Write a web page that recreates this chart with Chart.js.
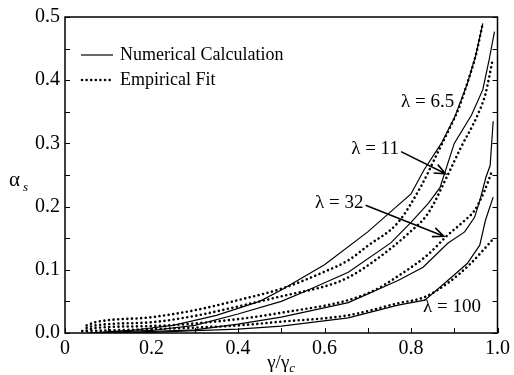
<!DOCTYPE html>
<html>
<head>
<meta charset="utf-8">
<script src="https://cdn.jsdelivr.net/npm/chart.js@4.4.0/dist/chart.umd.min.js"></script>
<style>
  html, body { margin: 0; padding: 0; background: #fff; }
  #wrap { width: 514px; height: 375px; }
</style>
</head>
<body>
<div id="wrap"><canvas id="plot" width="514" height="375"></canvas></div>
<script>
// Numerical calculation (solid) and empirical fit (dotted), per lambda
const num65X = [0.05, 0.15, 0.25, 0.35, 0.45, 0.5, 0.6, 0.7, 0.75, 0.8, 0.83, 0.87, 0.9, 0.93, 0.95, 0.966];
const num65Y = [0.0, 0.004, 0.012, 0.028, 0.05, 0.068, 0.108, 0.16, 0.19, 0.22, 0.258, 0.3, 0.34, 0.394, 0.44, 0.49];
const fit65X = [0.05, 0.07, 0.2, 0.3, 0.4, 0.5, 0.6, 0.655, 0.7, 0.77, 0.823, 0.86, 0.89, 0.91, 0.93, 0.95, 0.966];
const fit65Y = [0.012, 0.017, 0.025, 0.036, 0.052, 0.07, 0.097, 0.115, 0.138, 0.175, 0.232, 0.283, 0.325, 0.355, 0.395, 0.44, 0.49];

const num11X = [0.06, 0.2, 0.3, 0.4, 0.5, 0.556, 0.655, 0.754, 0.8, 0.84, 0.867, 0.9, 0.94, 0.966, 0.98, 0.993];
const num11Y = [0.0, 0.004, 0.012, 0.03, 0.05, 0.066, 0.096, 0.143, 0.175, 0.205, 0.23, 0.3, 0.345, 0.385, 0.43, 0.477];
const fit11X = [0.05, 0.07, 0.2, 0.3, 0.4, 0.5, 0.616, 0.655, 0.717, 0.793, 0.84, 0.885, 0.915, 0.954, 0.972, 0.989];
const fit11Y = [0.008, 0.012, 0.017, 0.027, 0.042, 0.058, 0.077, 0.088, 0.115, 0.157, 0.19, 0.25, 0.293, 0.345, 0.378, 0.433];

const num32X = [0.1, 0.3, 0.4, 0.5, 0.655, 0.77, 0.828, 0.885, 0.924, 0.947, 0.961, 0.973, 0.983, 0.99];
const num32Y = [0.0, 0.005, 0.014, 0.025, 0.048, 0.083, 0.104, 0.142, 0.16, 0.183, 0.214, 0.246, 0.265, 0.335];
const fit32X = [0.05, 0.07, 0.2, 0.4, 0.5, 0.655, 0.717, 0.77, 0.839, 0.885, 0.924, 0.947, 0.97, 0.986];
const fit32Y = [0.004, 0.008, 0.011, 0.022, 0.032, 0.052, 0.068, 0.09, 0.124, 0.155, 0.178, 0.194, 0.225, 0.254];

const num100X = [0.15, 0.4, 0.5, 0.655, 0.77, 0.832, 0.885, 0.93, 0.959, 0.972, 0.99];
const num100Y = [0.0, 0.006, 0.011, 0.024, 0.044, 0.052, 0.083, 0.11, 0.139, 0.178, 0.215];
const fit100X = [0.04, 0.2, 0.4, 0.5, 0.655, 0.77, 0.832, 0.885, 0.938, 0.989];
const fit100Y = [0.003, 0.006, 0.012, 0.018, 0.028, 0.047, 0.057, 0.079, 0.11, 0.148];

const xTickLabels = ['0', '0.2', '0.4', '0.6', '0.8', '1.0'];
const yTickLabels = ['0.0', '0.1', '0.2', '0.3', '0.4', '0.5'];
const legendLabels = ['Numerical Calculation', 'Empirical Fit'];

// curve labels: text, anchor [x, y], optional arrow tip [x, y]
const curveLabels = [
  { text: '\u03bb = 6.5', at: [0.9, 0.366], align: 'right' },
  { text: '\u03bb = 11', at: [0.772, 0.291], align: 'right', from: [0.777, 0.287], tip: [0.88, 0.252] },
  { text: '\u03bb = 32', at: [0.69, 0.206], align: 'right', from: [0.695, 0.202], tip: [0.876, 0.153] },
  { text: '\u03bb = 100', at: [0.828, 0.041], align: 'left' }
];

const SERIF = '"Liberation Serif", "Times New Roman", serif';

function pts(xs, ys) {
  return xs.map((x, i) => ({ x: x, y: ys[i] }));
}

function solid(xs, ys) {
  return {
    data: pts(xs, ys),
    borderColor: '#000',
    borderWidth: 1.2,
    pointRadius: 0,
    tension: 0
  };
}

function dotted(xs, ys) {
  return {
    data: pts(xs, ys),
    borderColor: '#000',
    borderWidth: 2.6,
    borderDash: [0.01, 4.6],
    borderCapStyle: 'round',
    pointRadius: 0,
    cubicInterpolationMode: 'monotone'
  };
}

// frame, inward ticks, axis titles, legend and curve labels
const decorations = {
  id: 'decorations',
  afterDraw(chart) {
    const ctx = chart.ctx;
    const a = chart.chartArea;
    const xs = chart.scales.x;
    const ys = chart.scales.y;
    ctx.save();
    ctx.strokeStyle = '#000';
    ctx.fillStyle = '#000';
    ctx.lineWidth = 1.5;
    ctx.strokeRect(a.left, a.top, a.right - a.left, a.bottom - a.top);

    ctx.lineWidth = 1;
    ctx.beginPath();
    ys.ticks.forEach(t => {
      const py = Math.round(ys.getPixelForValue(t.value)) + 0.5;
      ctx.moveTo(a.left, py); ctx.lineTo(a.left + 5, py);
      ctx.moveTo(a.right, py); ctx.lineTo(a.right - 5, py);
    });
    xs.ticks.forEach(t => {
      const px = Math.round(xs.getPixelForValue(t.value)) + 0.5;
      ctx.moveTo(px, a.bottom); ctx.lineTo(px, a.bottom - 5);
    });
    ctx.stroke();

    // y title
    ctx.textBaseline = 'alphabetic';
    ctx.textAlign = 'left';
    ctx.font = '21px ' + SERIF;
    ctx.fillText('\u03b1', 9, 186);
    ctx.font = 'italic 13px ' + SERIF;
    ctx.fillText('s', 23, 191);

    // x title
    const cx = (a.left + a.right) / 2;
    ctx.font = '19px ' + SERIF;
    const main = '\u03b3/\u03b3';
    const w = ctx.measureText(main).width;
    ctx.fillText(main, cx - w / 2 - 3, 368);
    ctx.font = 'italic 13px ' + SERIF;
    ctx.fillText('c', cx + w / 2 - 3, 372);

    // legend
    ctx.font = '18px ' + SERIF;
    ctx.lineWidth = 1.2;
    ctx.beginPath();
    ctx.moveTo(81, 55); ctx.lineTo(113, 55);
    ctx.stroke();
    ctx.lineWidth = 2.6;
    ctx.lineCap = 'round';
    ctx.setLineDash([0.01, 4.6]);
    ctx.beginPath();
    ctx.moveTo(82, 80); ctx.lineTo(113, 80);
    ctx.stroke();
    ctx.setLineDash([]);
    ctx.lineCap = 'butt';
    ctx.textBaseline = 'middle';
    ctx.fillText(legendLabels[0], 120, 55);
    ctx.fillText(legendLabels[1], 120, 80);

    // curve labels with arrows
    ctx.font = '19px ' + SERIF;
    curveLabels.forEach(l => {
      ctx.textAlign = l.align;
      ctx.fillText(l.text, xs.getPixelForValue(l.at[0]), ys.getPixelForValue(l.at[1]));
      if (l.tip) {
        const x0 = xs.getPixelForValue(l.from[0]), y0 = ys.getPixelForValue(l.from[1]);
        const x1 = xs.getPixelForValue(l.tip[0]), y1 = ys.getPixelForValue(l.tip[1]);
        const ang = Math.atan2(y1 - y0, x1 - x0);
        ctx.lineWidth = 1.6;
        ctx.beginPath();
        ctx.moveTo(x0, y0); ctx.lineTo(x1, y1);
        ctx.moveTo(x1 - 12 * Math.cos(ang - 0.4), y1 - 12 * Math.sin(ang - 0.4));
        ctx.lineTo(x1, y1);
        ctx.lineTo(x1 - 12 * Math.cos(ang + 0.4), y1 - 12 * Math.sin(ang + 0.4));
        ctx.stroke();
      }
    });
    ctx.restore();
  }
};

new Chart(document.getElementById('plot'), {
  type: 'line',
  data: {
    datasets: [
      solid(num65X, num65Y), dotted(fit65X, fit65Y),
      solid(num11X, num11Y), dotted(fit11X, fit11Y),
      solid(num32X, num32Y), dotted(fit32X, fit32Y),
      solid(num100X, num100Y), dotted(fit100X, fit100Y)
    ]
  },
  options: {
    responsive: false,
    animation: false,
    layout: { padding: { top: 16, right: 14, left: 0, bottom: 0 } },
    plugins: {
      legend: { display: false },
      tooltip: { enabled: false }
    },
    scales: {
      x: {
        type: 'linear',
        min: 0,
        max: 1,
        grid: { display: false, drawTicks: false },
        border: { display: false },
        afterFit(scale) { scale.height = 42; },
        ticks: {
          stepSize: 0.1,
          padding: 4,
          color: '#000',
          font: { family: SERIF, size: 20 },
          maxRotation: 0,
          autoSkip: false,
          callback(v) {
            const i = Math.round(v * 10);
            return i % 2 === 0 ? xTickLabels[i / 2] : '';
          }
        }
      },
      y: {
        min: 0,
        max: 0.5,
        grid: { display: false, drawTicks: false },
        border: { display: false },
        afterFit(scale) { scale.width = 65; },
        ticks: {
          stepSize: 0.05,
          padding: 5,
          color: '#000',
          font: { family: SERIF, size: 20 },
          autoSkip: false,
          callback(v) {
            const i = Math.round(v * 20);
            return i % 2 === 0 ? yTickLabels[i / 2] : '';
          }
        }
      }
    }
  },
  plugins: [decorations]
});
</script>
</body>
</html>
